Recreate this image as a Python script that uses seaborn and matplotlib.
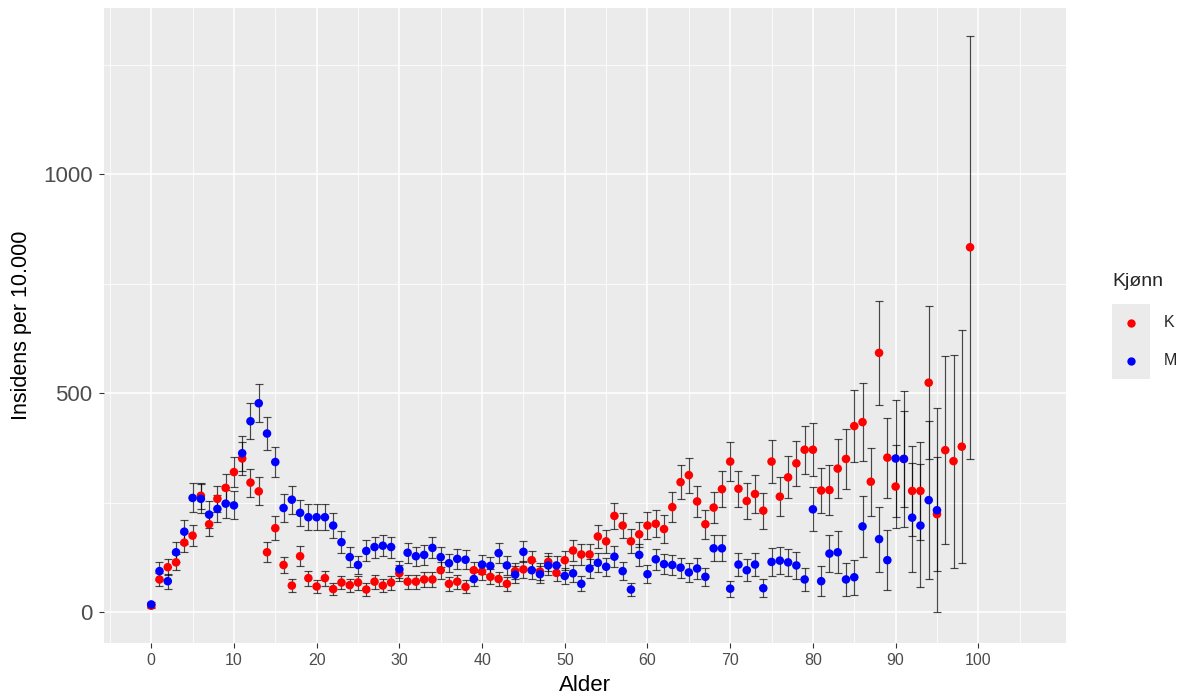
import numpy as np
import pandas as pd
import matplotlib
matplotlib.use("Agg")
import matplotlib.pyplot as plt
import seaborn as sns
from matplotlib.lines import Line2D
from matplotlib.patches import Rectangle
from matplotlib.ticker import FixedLocator

# ---------------- data ----------------
ages_k = list(range(100))
inc_k = [15, 75, 103, 114, 159, 175, 266, 201, 259, 284,
         320, 351, 296, 276, 137, 192, 108, 61, 128, 78,
         59, 78, 53, 68, 62, 68, 52, 70, 61, 68,
         89, 70, 70, 75, 75, 96, 65, 70, 58, 96,
         93, 81, 76, 65, 94, 98, 119, 93, 115, 90,
         119, 141, 132, 132, 173, 162, 220, 198, 162, 178,
         198, 202, 190, 240, 297, 313, 253, 201, 239, 281,
         344, 282, 254, 270, 232, 344, 264, 308, 340, 371,
         371, 278, 279, 328, 350, 425, 434, 298, 592, 353,
         287, 350, 277, 277, 524, 224, 370, 345, 378, 833]
err_k = [5, 15, 18, 18, 22, 24, 30, 27, 30, 32,
         35, 37, 32, 32, 23, 28, 19, 15, 23, 17,
         15, 17, 14, 15, 15, 16, 14, 16, 15, 16,
         18, 16, 16, 17, 17, 19, 16, 16, 15, 19,
         19, 17, 17, 16, 19, 19, 21, 19, 21, 19,
         22, 24, 23, 23, 27, 26, 30, 29, 27, 29,
         30, 31, 31, 35, 39, 40, 36, 33, 36, 41,
         45, 41, 40, 43, 41, 50, 45, 48, 52, 55,
         60, 52, 57, 67, 68, 82, 89, 78, 118, 91,
         95, 110, 103, 112, 174, 130, 214, 243, 266, 482]

ages_m = list(range(96))
inc_m = [18, 94, 71, 137, 184, 261, 259, 223, 236, 248,
         244, 363, 436, 477, 408, 343, 238, 257, 227, 217,
         217, 217, 198, 160, 126, 108, 140, 149, 152, 149,
         98, 136, 128, 131, 147, 126, 112, 122, 120, 76,
         109, 106, 135, 107, 86, 138, 96, 87, 107, 107,
         83, 89, 65, 100, 113, 104, 127, 94, 52, 131,
         87, 121, 110, 108, 102, 91, 100, 81, 146, 146,
         54, 109, 96, 109, 55, 115, 118, 114, 107, 75,
         235, 71, 134, 137, 75, 80, 196, np.nan, 167, 119,
         351, 350, 216, 198, 256, 233]
err_m = [5, 20, 17, 23, 27, 33, 33, 30, 31, 32,
         32, 40, 41, 43, 38, 35, 31, 32, 30, 30,
         30, 30, 28, 25, 22, 21, 24, 24, 24, 24,
         19, 23, 22, 23, 24, 22, 21, 22, 22, 17,
         21, 21, 23, 21, 19, 24, 20, 19, 21, 21,
         19, 19, 17, 21, 22, 21, 24, 21, 15, 25,
         20, 24, 23, 23, 23, 22, 23, 21, 30, 30,
         18, 26, 25, 27, 20, 31, 31, 31, 31, 26,
         50, 34, 43, 48, 37, 40, 69, np.nan, 74, 68,
         133, 156, 124, 140, 180, 233]

groups = ["K", "M"]
colors = {"K": "#FF0000", "M": "#0000FF"}
x_ticks = [0, 10, 20, 30, 40, 50, 60, 70, 80, 90, 100]
x_minor = [-5, 5, 15, 25, 35, 45, 55, 65, 75, 85, 95, 105]
y_ticks = [0, 500, 1000]
y_minor = [250, 750, 1250]

df = pd.concat([
    pd.DataFrame({"Alder": ages_k, "Insidens": inc_k, "err": err_k, "Kjønn": "K"}),
    pd.DataFrame({"Alder": ages_m, "Insidens": inc_m, "err": err_m, "Kjønn": "M"}),
], ignore_index=True).dropna()

# ---------------- style ----------------
sns.set_theme(style="white")
plt.rcParams["font.family"] = ["Liberation Sans", "DejaVu Sans"]

W, H = 1185, 697
fig = plt.figure(figsize=(W / 100, H / 100), dpi=100)
L, R, T, B = 103.75, 1066, 8, 643
ax = fig.add_axes([L / W, 1 - B / H, (R - L) / W, (B - T) / H])
ax.set_facecolor("#EBEBEB")
for s in ax.spines.values():
    s.set_visible(False)

# error bars
ax.errorbar(df["Alder"], df["Insidens"], yerr=df["err"], fmt="none",
            ecolor="black", elinewidth=0.85, capsize=2.6, capthick=0.85,
            alpha=0.7, zorder=2)
# points
sns.scatterplot(data=df, x="Alder", y="Insidens", hue="Kjønn", palette=colors,
                s=38, edgecolor="none", linewidth=0, ax=ax, legend=False, zorder=3)

ax.set_xlim(-5.74, 110.6)
ax.set_ylim(-70, 1379)
ax.xaxis.set_major_locator(FixedLocator(x_ticks))
ax.xaxis.set_minor_locator(FixedLocator(x_minor))
ax.yaxis.set_major_locator(FixedLocator(y_ticks))
ax.yaxis.set_minor_locator(FixedLocator(y_minor))
ax.grid(which="major", color="white", linewidth=1.1)
ax.grid(which="minor", color="white", linewidth=0.55)
ax.set_axisbelow(True)

ax.tick_params(axis="both", which="major", length=3.6, width=0.8,
               color="#333333", bottom=True, left=True)
ax.tick_params(axis="both", which="minor", length=0)
ax.tick_params(axis="x", labelsize=11.5, labelcolor="#4D4D4D", pad=3.5)
ax.tick_params(axis="y", labelsize=16, labelcolor="#4D4D4D", pad=4.5)

ax.set_xlabel("Alder", fontsize=16, color="black", labelpad=5)
ax.set_ylabel("Insidens per 10.000", fontsize=15.5, color="black", labelpad=8)

# ---------------- legend (ggplot style) ----------------
fig.text(1112.5 / W, 1 - 286 / H, "Kjønn", fontsize=14, ha="left", va="baseline")
fig.add_artist(Rectangle((1111.7 / W, 1 - 379.3 / H), 38.3 / W, 75.3 / H,
                         transform=fig.transFigure, facecolor="#EBEBEB",
                         edgecolor="none"))
for g, yy in zip(groups, [322.7, 360.7]):
    fig.add_artist(Line2D([1130.5 / W], [1 - yy / H], marker="o", markersize=6,
                          color=colors[g], markeredgewidth=0, linestyle="none",
                          transform=fig.transFigure))
    fig.text(1164 / W, 1 - yy / H, g, fontsize=11.5, ha="left", va="center")

fig.savefig("out.png", dpi=100)
